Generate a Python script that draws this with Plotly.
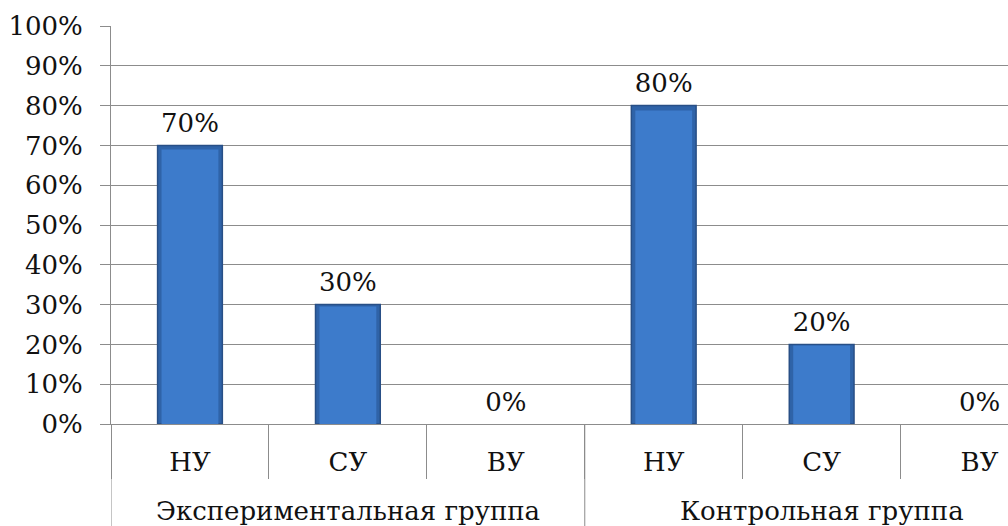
import plotly.graph_objects as go

groups = ["Экспериментальная группа", "Контрольная группа"]
levels = ["НУ", "СУ", "ВУ", "НУ", "СУ", "ВУ"]
values = [70, 30, 0, 80, 20, 0]
y_ticks = list(range(0, 101, 10))
y_tick_text = [f"{v}%" for v in y_ticks]

font_family = "DejaVu Serif, Liberation Serif, serif"
font_size = 26
text_color = "#111111"
grid_color = "#8c8c8c"

pos = list(range(len(levels)))
per_group = len(levels) // len(groups)
boundaries = [p - 0.5 for p in pos] + [pos[-1] + 0.5]

fig = go.Figure()

# outer (bevel edge) of each bar
fig.add_trace(go.Bar(
    x=pos,
    y=values,
    width=0.41,
    marker=dict(
        color="#2f63a8",
        line=dict(color="#284f86", width=[1.5 if v > 0 else 0 for v in values]),
    ),
    hoverinfo="skip",
))

# lighter face of each bar
fig.add_trace(go.Bar(
    x=pos,
    y=[v * 0.985 for v in values],
    width=0.36,
    marker=dict(color="#3d7bcb", line=dict(width=0)),
    hoverinfo="skip",
))

# value labels above each bar
fig.add_trace(go.Scatter(
    x=pos,
    y=values,
    mode="markers+text",
    text=[f"{v}%" for v in values],
    textposition="top center",
    textfont=dict(family=font_family, size=font_size, color=text_color),
    marker=dict(size=9, opacity=0),
    hoverinfo="skip",
    cliponaxis=False,
))

# group names under the category labels
for g, name in enumerate(groups):
    center = (g * per_group + (g + 1) * per_group - 1) / 2
    fig.add_annotation(
        x=center, xref="x", y=0, yref="paper",
        text=name, showarrow=False,
        yanchor="middle", yshift=-87,
        font=dict(family=font_family, size=font_size, color=text_color),
    )

# vertical group dividers reaching the bottom edge
for g in range(len(groups) + 1):
    fig.add_shape(
        type="line", xref="x", yref="paper",
        x0=g * per_group - 0.5, x1=g * per_group - 0.5,
        y0=0, y1=-0.3,
        line=dict(color=grid_color, width=1),
    )

fig.update_layout(
    width=1008,
    height=526,
    barmode="overlay",
    margin=dict(l=111, r=0, t=26, b=102, autoexpand=False),
    paper_bgcolor="white",
    plot_bgcolor="white",
    showlegend=False,
    font=dict(family=font_family, size=font_size, color=text_color),
)

fig.update_yaxes(
    range=[0, 100],
    tickvals=y_ticks,
    ticktext=y_tick_text,
    tickfont=dict(family=font_family, size=font_size, color=text_color),
    showgrid=True,
    gridcolor=grid_color,
    gridwidth=1,
    showline=True,
    linecolor=grid_color,
    linewidth=1,
    ticks="outside",
    ticklen=10,
    tickcolor=grid_color,
    ticklabelstandoff=12,
    zeroline=False,
    automargin=False,
)

fig.update_xaxes(
    range=[-0.5, 5.18],
    tickvals=pos,
    ticktext=levels,
    tickfont=dict(family=font_family, size=font_size, color=text_color),
    ticks="",
    ticklabelstandoff=15,
    minor=dict(
        tickvals=boundaries,
        ticks="outside",
        ticklen=54,
        tickcolor=grid_color,
        showgrid=False,
    ),
    showgrid=False,
    zeroline=False,
    showline=True,
    linecolor=grid_color,
    automargin=False,
)

fig.write_html("out.html")
